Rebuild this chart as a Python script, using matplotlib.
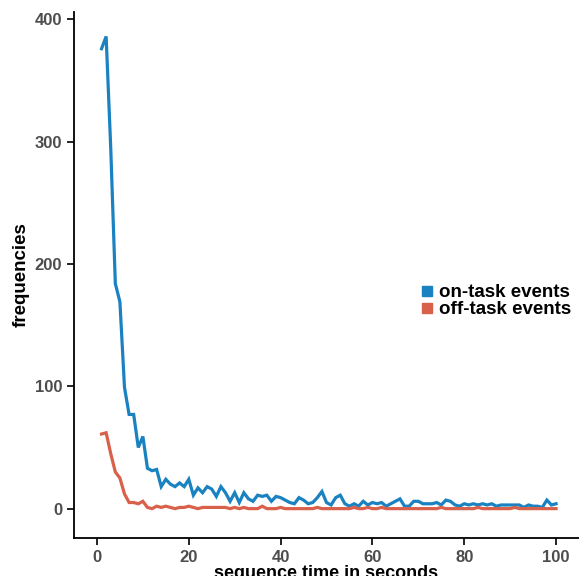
import numpy as np
import matplotlib
matplotlib.use("Agg")
from matplotlib import pyplot as plt

seconds = list(range(1, 101))
on_task = [376, 386, 295, 184, 169, 99, 77, 77, 50, 59,
           33, 31, 32, 18, 24, 20, 18, 21, 18, 24,
           11, 17, 13, 18, 16, 10, 18, 13, 6, 13,
           5, 13, 8, 6, 11, 10, 11, 6, 10, 9,
           7, 5, 4, 9, 7, 4, 5, 9, 14, 5,
           3, 9, 11, 4, 2, 4, 2, 6, 3, 5,
           4, 5, 2, 4, 6, 8, 2, 2, 6, 6,
           4, 4, 4, 5, 3, 7, 6, 3, 2, 4,
           3, 4, 3, 4, 3, 4, 2, 3, 3, 3,
           3, 3, 1, 3, 2, 2, 1, 7, 3, 4]
off_task = [61, 62, 45, 30, 25, 12, 5, 5, 4, 6,
            1, 0, 2, 1, 2, 1, 0, 1, 1, 2,
            1, 0, 1, 1, 1, 1, 1, 1, 0, 1,
            0, 1, 0, 0, 0, 2, 0, 0, 0, 1,
            0, 0, 0, 0, 0, 0, 0, 1, 0, 0,
            0, 0, 0, 0, 0, 1, 0, 0, 1, 0,
            0, 1, 0, 0, 0, 0, 0, 0, 0, 0,
            0, 0, 0, 0, 1, 0, 0, 0, 0, 0,
            0, 0, 1, 0, 0, 0, 0, 0, 0, 0,
            1, 0, 0, 0, 0, 0, 0, 0, 0, 0]
series_names = ["on-task events", "off-task events"]
colors = ["#1a82c1", "#d9604a"]

plt.rcParams['font.family'] = ['Liberation Sans', 'DejaVu Sans']

fig = plt.figure(figsize=(5.79, 5.76), dpi=100)
ax = fig.add_axes([74/579, 38/576, 1 - 74/579, 1 - 50/576])

for vals, name, c in zip([on_task, off_task], series_names, colors):
    ax.plot(seconds, vals, color=c, lw=2.3, label=name, solid_joinstyle='miter')

ax.set_xlim(-5, 105)
ax.set_ylim(-24, 406)
ax.set_xticks([0, 20, 40, 60, 80, 100])
ax.set_yticks([0, 100, 200, 300, 400])
for s in ['top', 'right']:
    ax.spines[s].set_visible(False)
for s in ['left', 'bottom']:
    ax.spines[s].set_linewidth(1.3)
ax.tick_params(length=5, width=1.2, colors='black', labelcolor='#4d4d4d',
               labelsize=12)
for lab in ax.get_xticklabels() + ax.get_yticklabels():
    lab.set_fontweight('bold')
ax.set_xlabel("sequence time in seconds", fontsize=13, fontweight='bold', labelpad=0)
ax.set_ylabel("frequencies", fontsize=13.5, fontweight='bold', labelpad=4)

handles = [plt.Line2D([], [], marker='s', ls='none', color=c, markersize=7.5) for c in colors]
leg = ax.legend(handles, series_names, loc='center left', bbox_to_anchor=(0.655, 0.45),
                frameon=False, handlelength=0.6, handletextpad=0.3, labelspacing=0.0,
                prop={'weight': 'bold', 'size': 13.5})

fig.savefig("out.png", dpi=100)
